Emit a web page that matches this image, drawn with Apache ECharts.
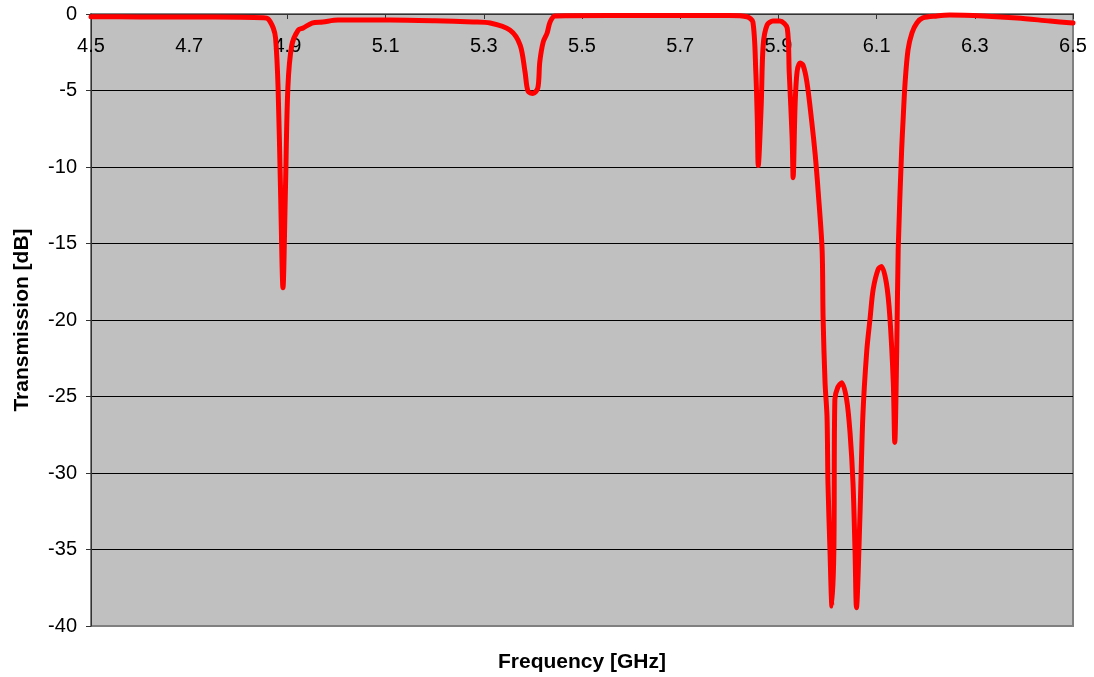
<!DOCTYPE html>
<html>
<head>
<meta charset="utf-8">
<script src="https://cdn.jsdelivr.net/npm/echarts@6/dist/echarts.min.js"></script>
<style>
  html, body { margin: 0; padding: 0; background: #fff; }
  #chart { width: 1094px; height: 677px; }
</style>
</head>
<body>
<div id="chart"></div>
<script>
// Measured transmission response of the filter, frequency in GHz
const freqGHz = [
  4.500, 4.600, 4.702, 4.800, 4.850, 4.860, 4.871, 4.876, 4.881, 4.886, 4.891,
  4.896, 4.901, 4.909, 4.922, 4.932, 4.950, 4.972, 5.003, 5.109, 5.200, 5.278,
  5.313, 5.353, 5.374, 5.384, 5.390, 5.400, 5.410, 5.414, 5.421, 5.429, 5.435,
  5.445, 5.469, 5.638, 5.800, 5.836, 5.848, 5.854, 5.857, 5.859, 5.865, 5.869,
  5.877, 5.889, 5.903, 5.918, 5.922, 5.928, 5.930, 5.934, 5.938, 5.944, 5.950,
  5.958, 5.968, 5.975, 5.981, 5.989, 5.991, 5.995, 5.999, 6.001, 6.005, 6.009,
  6.013, 6.015, 6.021, 6.029, 6.039, 6.046, 6.052, 6.056, 6.059, 6.066, 6.072,
  6.080, 6.087, 6.093, 6.103, 6.110, 6.120, 6.127, 6.134, 6.137, 6.141, 6.144,
  6.151, 6.154, 6.158, 6.164, 6.172, 6.182, 6.194, 6.223, 6.249, 6.317, 6.386,
  6.453, 6.500
];
const transmissionDB = [
  -0.18, -0.19, -0.20, -0.21, -0.24, -0.30, -0.90, -1.60, -4.80, -11.5, -17.9,
  -11.5, -4.80, -2.03, -1.05, -0.92, -0.59, -0.52, -0.40, -0.39, -0.44, -0.52,
  -0.59, -1.05, -2.03, -3.79, -5.05, -5.20, -4.84, -3.14, -1.83, -1.24, -0.52,
  -0.13, -0.11, -0.10, -0.10, -0.18, -0.52, -3.79, -6.90, -9.90, -5.95, -2.03,
  -0.72, -0.46, -0.46, -0.92, -3.79, -8.10, -10.7, -5.95, -3.79, -3.20, -3.33,
  -4.44, -7.06, -9.22, -11.6, -15.4, -19.8, -24.1, -26.3, -30.7, -35.0, -38.7,
  -35.0, -25.2, -24.4, -24.1, -25.2, -27.4, -30.7, -35.0, -38.8, -32.9, -26.3,
  -22.0, -19.8, -18.0, -16.7, -16.5, -17.6, -19.8, -24.1, -28.0, -22.0, -15.4,
  -8.90, -6.90, -4.50, -2.35, -1.24, -0.59, -0.26, -0.13, -0.07, -0.13, -0.26,
  -0.46, -0.59
];
const xTicks = { min: 4.5, max: 6.5, step: 0.2 };
const yTicks = { min: -40, max: 0, step: 5 };

const points = freqGHz.map((f, i) => [f, transmissionDB[i]]);
const labelFont = 'Liberation Sans, Arial, sans-serif';

// gridline colours: the bottom one sits on the grey frame, the rest are black
const gridLineCount = (yTicks.max - yTicks.min) / yTicks.step + 1;
const gridLineColors = Array.from({ length: gridLineCount }, (_, i) => (i === 0 ? '#808080' : '#000'));

const chart = echarts.init(document.getElementById('chart'), null, { renderer: 'canvas' });
chart.setOption({
  animation: false,
  backgroundColor: '#ffffff',
  grid: {
    left: 91, right: 21, top: 14, bottom: 51,
    show: true,
    backgroundColor: '#c0c0c0',
    borderColor: '#808080',
    borderWidth: 2
  },
  xAxis: {
    type: 'value',
    position: 'top',
    min: xTicks.min, max: xTicks.max, interval: xTicks.step,
    axisLine: { show: true, lineStyle: { color: '#333', width: 1 } },
    axisTick: { show: true, inside: true, length: 5, lineStyle: { color: '#333' } },
    axisLabel: {
      inside: true, margin: 22,
      color: '#000', fontFamily: labelFont, fontSize: 20,
      showMinLabel: true, showMaxLabel: true,
      formatter: v => v.toFixed(1)
    },
    splitLine: { show: false }
  },
  yAxis: {
    type: 'value',
    min: yTicks.min, max: yTicks.max, interval: yTicks.step,
    name: 'Transmission [dB]',
    nameLocation: 'middle',
    nameGap: 58,
    nameRotate: 90,
    nameTextStyle: { color: '#000', fontFamily: labelFont, fontSize: 21, fontWeight: 'bold' },
    axisLine: { show: true, lineStyle: { color: '#333', width: 1 } },
    axisTick: { show: true, length: 5, lineStyle: { color: '#333' } },
    axisLabel: { color: '#000', fontFamily: labelFont, fontSize: 20, margin: 14 },
    splitLine: { show: true, lineStyle: { color: gridLineColors, width: 1 } }
  },
  graphic: [{
    type: 'text',
    x: 582, y: 662,
    style: {
      text: 'Frequency [GHz]',
      fill: '#000',
      font: 'bold 21px ' + labelFont,
      textAlign: 'center',
      textVerticalAlign: 'middle'
    }
  }],
  series: [{
    type: 'line',
    data: points,
    showSymbol: false,
    smooth: 0.3,
    clip: true,
    lineStyle: { color: '#ff0000', width: 5, cap: 'round', join: 'round' }
  }]
});
</script>
</body>
</html>
